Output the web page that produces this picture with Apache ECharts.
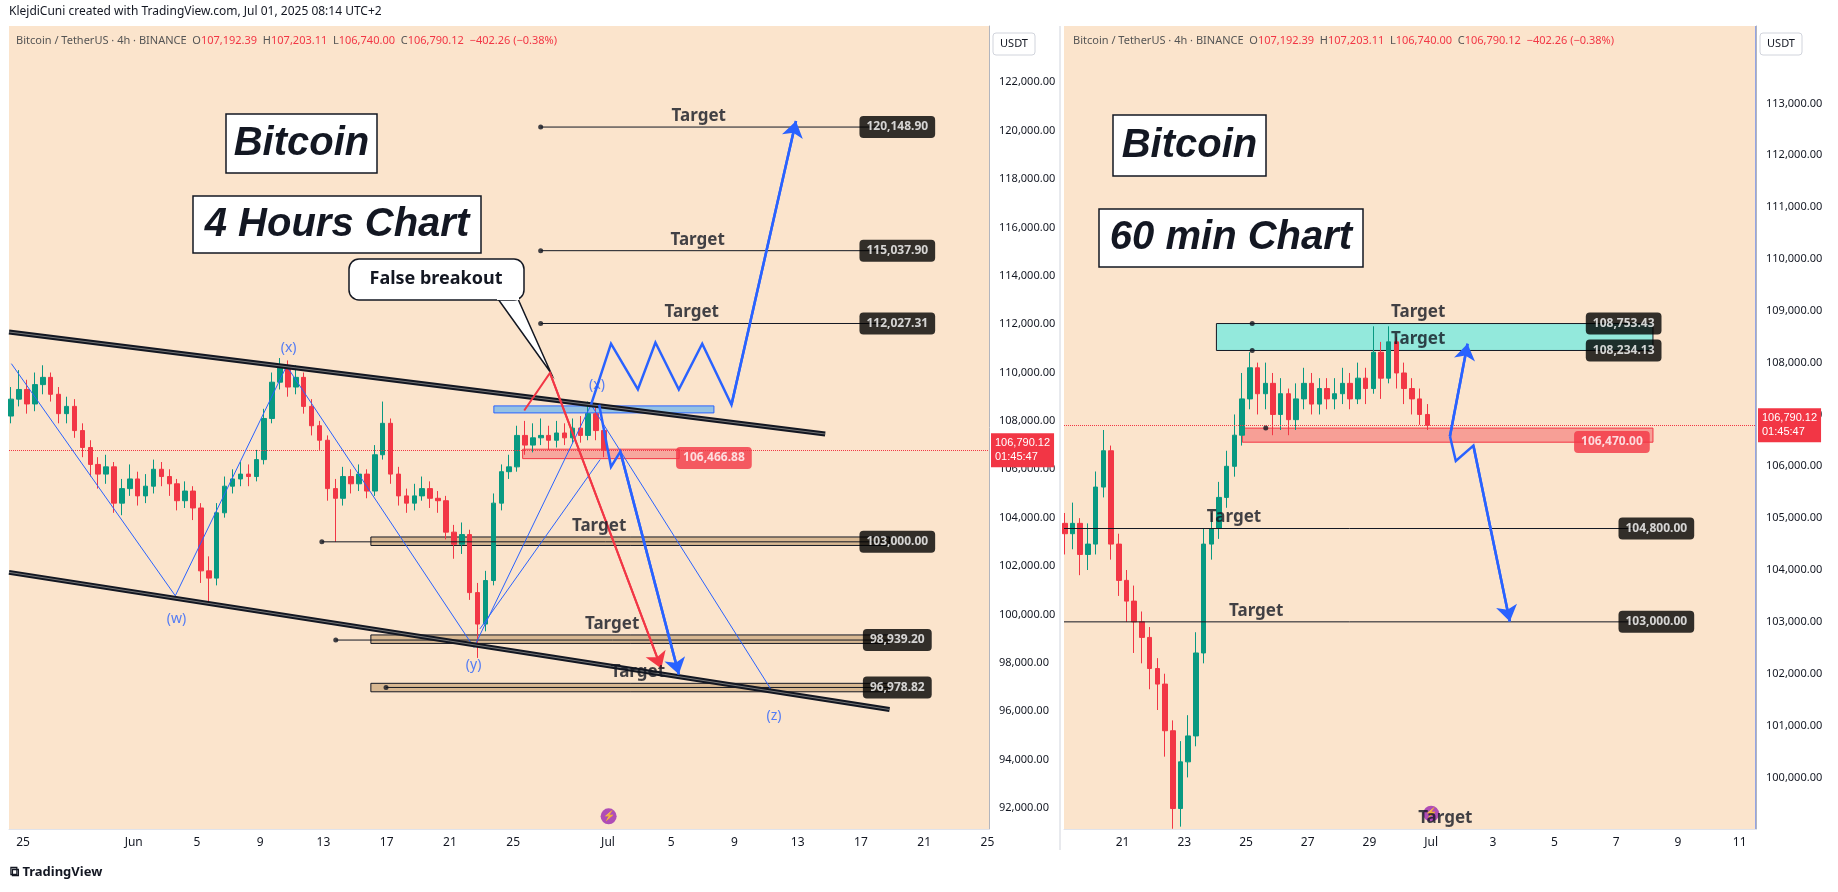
<!DOCTYPE html>
<html><head><meta charset="utf-8">
<script src="https://cdn.jsdelivr.net/npm/echarts@6/dist/echarts.min.js"></script>
<style>html,body{margin:0;padding:0;background:#fff}#c{width:1838px;height:892px}</style>
</head><body><div id="c"></div>
<script>
// ---------- DATA ----------
// day numbering: May 25 = 25, Jun 1 = 32, Jul 1 = 62
const leftStartDay = 24.25, leftStep = 0.5; // 4h chart, one candle per half day
const leftOHLC = [ // [open, close, low, high]
[108200,108900,107900,109400],[108900,109300,108600,110100],[109300,108700,108300,109700],[108700,109500,108400,110000],[109500,109800,109100,110300],
[109800,109100,108800,110000],[109100,108300,107900,109400],[108300,108600,107900,109000],[108600,107600,107300,108900],[107600,106900,106500,107900],
[106900,106200,105700,107200],[106200,105800,105200,106500],[105800,106100,105400,106600],[106100,104600,104200,106300],[104600,105200,104100,105600],
[105200,105600,104900,106200],[105600,104900,104500,105900],[104900,105300,104600,105800],[105300,106000,105000,106400],[106000,105700,105300,106300],
[105700,105400,104900,106000],[105400,104700,104300,105600],[104700,105100,104400,105500],[105100,104400,103900,105300],[104400,101800,101300,104600],
[101800,101500,100400,102400],[101500,104200,101200,104600],[104200,105300,104000,105700],[105300,105600,105000,106000],[105600,105800,105300,106300],
[105800,105700,105300,106200],[105700,106400,105500,106800],[106400,108100,106200,108500],[108100,109600,107900,110000],[109600,110300,109300,110600],
[110300,109400,109000,110500],[109400,109800,109100,110300],[109800,108600,108300,110000],[108600,107800,107400,108900],[107800,107200,106800,108000],
[107200,105200,104700,107400],[105200,104800,103000,105600],[104800,105700,104500,106100],[105700,105400,105000,106000],[105400,105800,105100,106200],
[105800,105100,104800,106000],[105100,106600,104900,107000],[106600,107900,106400,108800],[107900,105800,105400,108100],[105800,104900,104500,106100],
[104900,104600,104200,105200],[104600,104900,104300,105400],[104900,105200,104700,105700],[105200,104800,104400,105500],[104800,104700,104200,105100],
[104700,103400,103100,104900],[103400,102900,102300,103700],[102900,103300,102500,103800],[103300,100900,100600,103500],[100900,99600,98200,101300],
[99600,101400,99300,101800],[101400,104600,101200,105000],[104600,105900,104300,106200],[105900,106100,105600,106600],[106100,107400,105900,107800],
[107400,107000,106600,108000],[107000,107300,106700,107900],[107300,107400,107000,108100],[107400,107200,106800,107800],[107200,107500,106900,108000],
[107500,107300,107000,107900],[107300,107700,107100,108100],[107700,107400,107100,108200],[107400,108300,107200,108800],[108300,107600,107200,108600],
[107600,106790,106500,107900]];
const rightStartDay = 50.125, rightStep = 0.25;
const rightOHLC = [
[104900,104700,104300,105100],[104700,104900,104400,105300],[104900,104300,103900,105000],[104300,104500,104000,104900],[104500,105600,104300,105900],
[105600,106300,105400,106700],[106300,104500,104200,106400],[104500,103800,103500,104700],[103800,103400,103000,104000],[103400,103000,102400,103700],
[103000,102700,102200,103200],[102700,102100,101700,102900],[102100,101800,101300,102300],[101800,100900,100400,102000],[100900,99400,99010,101100],
[99400,100300,99050,100700],[100300,100800,100000,101200],[100800,102400,100600,102800],[102400,104500,102200,104800],[104500,104800,104200,105100],
[104800,105400,104600,105700],[105400,106000,105200,106300],[106000,106600,105800,107000],[106600,107300,106400,107800],[107300,107900,107100,108200],
[107900,107400,107000,108000],[107400,107600,107100,108000],[107600,107000,106600,107800],[107000,107400,106700,107700],[107400,106900,106600,107500],
[106900,107300,106700,107600],[107300,107600,107100,107900],[107600,107200,107000,107800],[107200,107500,107000,107700],[107500,107300,107100,107700],
[107300,107400,107100,107700],[107400,107600,107200,107900],[107600,107300,107100,107800],[107300,107700,107200,108000],[107700,107500,107200,107900],
[107500,108200,107400,108700],[108200,107700,107300,108400],[107700,108400,107600,108700],[108400,107800,107500,108500],[107800,107500,107200,108000],
[107500,107300,107000,107700],[107300,107000,106800,107500],[107000,106790,106700,107200]];
const lastPrice = 106790.12;
const leftTicksX = [25,32,36,40,44,48,52,56,62,66,70,74,78,82,86];
const rightTicksX = [52,54,56,58,60,62,64,66,68,70,72];
const leftTicksY = [92000,94000,96000,98000,100000,102000,104000,106000,108000,110000,112000,114000,116000,118000,120000,122000];
const rightTicksY = [100000,101000,102000,103000,104000,105000,106000,107000,108000,109000,110000,111000,112000,113000];
// left annotations
const leftTargets = [120148.90, 115037.90, 112027.31];
const leftZones = [[103000.00,102850,103200],[98939.20,98800,99150],[96978.82,96800,97150]];
const leftUpperChannel = [[24.11,111675],[75.74,107458]];
const leftLowerChannel = [[24.11,101738],[79.81,96067]];
const leftWave = [[24.26,110367],[34.63,100770],[41.67,110270],[53.52,98636],[60.93,108670],[72.41,96796]];
const leftWaveExtra = [[53.9,99400],[61.5,106400]];
const waveLabels = [['(w)',34.7,99800],['(x)',41.8,111000],['(y)',53.5,97900],['(x)',61.3,109500],['(z)',72.5,95800]];
const leftRedPath = [[56.70,108428],[58.33,109980],[65.37,97766]];
const leftBlueUp = [[60.93,108670],[62.19,111191],[63.89,109300],[65.0,111239],[66.48,109300],[67.96,111191],[69.81,108670],[73.89,120400]];
const leftBlueDown = [[61.44,108670],[62.19,106101],[62.78,106731],[66.48,97522]];
// right annotations
const rightCyan = [108753.43, 108234.13];
const rightRed = 106470.00;
const rightTargets = [104800.00, 103000.00];
const rightBlueUp = [[62.61,106579],[63.18,108365]];
const rightBlueDown = [[62.61,106579],[62.80,106104],[63.37,106398],[64.55,103006]];

// ---------- helpers ----------
const fmt = v => v.toLocaleString('en-US',{minimumFractionDigits:2,maximumFractionDigits:2});
const candles = (ohlc, start, step) => ohlc.map((c,i)=>[start+i*step, c[0], c[1], c[2], c[3]]);
const dayLabel = d => d<32 ? String(d) : d===32 ? 'Jun' : d<62 ? String(d-31) : d===62 ? 'Jul' : String(d-61);
const UP='#089981', DN='#f23645', BG='#fbe4cc';
const pill = (xi, yi, x, y, text, bg) => ({type:'scatter', xAxisIndex:xi, yAxisIndex:yi, symbolSize:1, silent:true, z:20,
  itemStyle:{color:'rgba(0,0,0,0)'}, data:[[x,y]],
  label:{show:true, position:'inside', formatter:text, color:'#fff', backgroundColor:bg||'#000', borderRadius:4, padding:[5,7], fontSize:12, fontWeight:'bold', fontFamily:'Noto Sans'}});
const txt = (xi, yi, x, y, text, opt) => ({type:'scatter', xAxisIndex:xi, yAxisIndex:yi, symbolSize:1, silent:true, z:19,
  itemStyle:{color:'rgba(0,0,0,0)'}, data:[[x,y]],
  label:Object.assign({show:true, position:'inside', formatter:text, color:'#131722', fontSize:17, fontWeight:'bold', fontFamily:'Noto Sans'}, opt||{})});
const series = [];
const line = (xi, yi, pts, color, width, arrow, z) => {
  series.push({type:'lines', coordinateSystem:'cartesian2d', xAxisIndex:xi, yAxisIndex:yi, polyline:true, silent:true, z:z||10,
    symbol:'none', lineStyle:{color, width, opacity:1}, data:[{coords:pts}]});
  if (arrow) {
    const n = pts.length;
    series.push({type:'lines', coordinateSystem:'cartesian2d', xAxisIndex:xi, yAxisIndex:yi, polyline:false, silent:true, z:z||10,
      symbol:['none','arrow'], symbolSize:16, lineStyle:{color, width, opacity:1}, data:[{coords:[pts[n-2],pts[n-1]]}]});
  }
};
const dot = (xi, yi, pts) => ({type:'scatter', xAxisIndex:xi, yAxisIndex:yi, symbolSize:5, silent:true, z:15, itemStyle:{color:'#131722'}, data:pts});

// left candles
series.push({type:'candlestick', xAxisIndex:0, yAxisIndex:0, barWidth:5, clip:true, data:candles(leftOHLC,leftStartDay,leftStep), encode:{x:0,y:[1,2,3,4]},
  itemStyle:{color:UP,color0:DN,borderColor:UP,borderColor0:DN},
  markLine:{symbol:'none', silent:true, lineStyle:{color:DN,type:'dotted',width:1},
    label:{position:'end', formatter:fmt(lastPrice)+'\n01:45:47', backgroundColor:'#f23645', color:'#fff', fontSize:11, padding:[3,4], lineHeight:14, distance:2},
    data:[{yAxis:lastPrice}]},
  markArea:{silent:true, data:[
    [{coord:[54.78,108330],itemStyle:{color:'rgba(66,165,245,0.55)',borderColor:'#2962ff',borderWidth:1}},{coord:[68.7,108620]}],
    [{coord:[56.6,106440],itemStyle:{color:'rgba(242,54,69,0.35)',borderColor:'#f23645',borderWidth:1}},{coord:[66.5,106830]}],
    ...leftZones.map(z=>[{coord:[47.0,z[1]],itemStyle:{color:'rgba(196,160,115,0.65)',borderColor:'#131722',borderWidth:1}},{coord:[79.8,z[2]]}])
  ]}});
// right candles
series.push({type:'candlestick', xAxisIndex:1, yAxisIndex:1, barWidth:5, clip:true, data:candles(rightOHLC,rightStartDay,rightStep), encode:{x:0,y:[1,2,3,4]},
  itemStyle:{color:UP,color0:DN,borderColor:UP,borderColor0:DN},
  markLine:{symbol:'none', silent:true, lineStyle:{color:DN,type:'dotted',width:1},
    label:{position:'end', formatter:fmt(lastPrice)+'\n01:45:47', backgroundColor:'#f23645', color:'#fff', fontSize:11, padding:[3,4], lineHeight:14, distance:2},
    data:[{yAxis:lastPrice}]},
  markArea:{silent:true, data:[
    [{coord:[55.04,rightCyan[1]],itemStyle:{color:'rgba(128,234,222,0.85)',borderColor:'#131722',borderWidth:1}},{coord:[69.19,rightCyan[0]]}],
    [{coord:[55.88,106465],itemStyle:{color:'rgba(242,54,69,0.4)',borderColor:'#f23645',borderWidth:1}},{coord:[69.19,106737]}]
  ]}});
// left channels
[leftUpperChannel,leftLowerChannel].forEach(c=>{
  line(0,0,c,'#131722',5,false,11);
  line(0,0,c,'#777',1,false,12);
});
line(0,0,leftWave,'#2962ff',1,false,9);
line(0,0,leftWaveExtra,'#2962ff',1,false,9);
waveLabels.forEach(w=>series.push(txt(0,0,w[1],w[2],w[0],{color:'#2962ff',fontSize:14,fontWeight:'normal'})));
line(0,0,leftRedPath,'#f23645',2,true,13);
line(0,0,leftBlueUp,'#2962ff',2.5,true,13);
line(0,0,leftBlueDown,'#2962ff',2.5,true,13);
// left targets
leftTargets.forEach((t,i)=>{
  line(0,0,[[57.74,t],[79.5,t]],'#131722',1,false,8);
  series.push(dot(0,0,[[57.74,t]]));
  series.push(txt(0,0,[67.74,67.67,67.3][i],t,'Target',{position:'top',distance:2}));
  series.push(pill(0,0,80.3,t,fmt(t)));
});
const zoneStarts=[43.9,44.78,47.96];
leftZones.forEach((z,i)=>{
  line(0,0,[[zoneStarts[i],z[0]],[79.8,z[0]]],'#131722',1,false,8);
  series.push(dot(0,0,[[zoneStarts[i],z[0]]]));
  series.push(txt(0,0,[61.44,62.26,63.89][i],z[2],'Target',{position:'top',distance:2}));
  series.push(pill(0,0,80.3,z[0],fmt(z[0])));
});
series.push(pill(0,0,68.7,106466.88,fmt(106466.88),'#f23645'));
series.push({type:'scatter',xAxisIndex:0,yAxisIndex:0,symbolSize:16,silent:true,itemStyle:{color:'#9c27b0'},data:[[62.04,91650]],
  label:{show:true,position:'inside',formatter:'⚡',color:'#fff',fontSize:10}});
// right
series.push(dot(1,1,[[56.2,rightCyan[0]],[56.2,rightCyan[1]],[56.64,106737]]));
series.push(txt(1,1,61.58,rightCyan[0],'Target',{position:'top',distance:2}));
series.push(txt(1,1,61.58,rightCyan[1],'Target',{position:'top',distance:2}));
series.push(pill(1,1,68.24,rightCyan[0],fmt(rightCyan[0])));
series.push(pill(1,1,68.24,rightCyan[1],fmt(rightCyan[1])));
series.push(pill(1,1,67.86,rightRed,fmt(rightRed),'#f23645'));
rightTargets.forEach((t,i)=>{
  line(1,1,[[50.1,t],[68.6,t]],'#131722',1,false,8);
  series.push(txt(1,1,[55.61,56.33][i],t,'Target',{position:'top',distance:2}));
  series.push(pill(1,1,69.3,t,fmt(t)));
});
series.push(txt(1,1,62.46,99207,'Target'));
line(1,1,rightBlueUp,'#2962ff',2.5,true,13);
line(1,1,rightBlueDown,'#2962ff',2.5,true,13);
series.push({type:'scatter',xAxisIndex:1,yAxisIndex:1,symbolSize:16,silent:true,itemStyle:{color:'#9c27b0'},data:[[62.0,99300]],
  label:{show:true,position:'inside',formatter:'⚡',color:'#fff',fontSize:10}});

const xAxisBase = (gi,min,max,ticks)=>({type:'value', gridIndex:gi, min, max, splitLine:{show:false},
  axisLine:{show:true,lineStyle:{color:'#e0e3eb'}}, axisTick:{show:false},
  axisLabel:{customValues:ticks, formatter:dayLabel, color:'#131722', fontSize:12, fontFamily:'Noto Sans', margin:8}});
const yAxisBase = (gi,min,max,ticks)=>({type:'value', gridIndex:gi, min, max, position:'right', scale:true, splitLine:{show:false},
  axisLine:{show:true,lineStyle:{color:'#b2b5be'}}, axisTick:{show:false},
  axisLabel:{customValues:ticks, formatter:v=>fmt(v), color:'#131722', fontSize:11, fontFamily:'Noto Sans', margin:10}});

const boxText = (x,y,w,h,text,size)=>({type:'group', children:[
  {type:'rect', shape:{x,y,width:w,height:h}, style:{fill:'#fff',stroke:'#131722',lineWidth:1.5}},
  {type:'text', x:x+w/2, y:y+h/2, style:{text, fill:'#131722', font:'italic bold '+size+'px "Liberation Sans"', align:'center', verticalAlign:'middle'}}]});

const chart = echarts.init(document.getElementById('c'));
chart.setOption({
  animation:false, backgroundColor:'#fff',
  grid:[
    {left:9, top:26, width:980, height:803, show:true, backgroundColor:BG, borderWidth:0},
    {left:1064, top:26, width:692, height:803, show:true, backgroundColor:BG, borderWidth:0}],
  xAxis:[xAxisBase(0,24.11,86.1,leftTicksX), xAxisBase(1,50.1,72.53,rightTicksX)],
  yAxis:[yAxisBase(0,91127,124327,leftTicksY), yAxisBase(1,99005,114492,rightTicksY)],
  series,
  graphic:[
    {type:'text', left:9, top:6, style:{text:'KlejdiCuni created with TradingView.com, Jul 01, 2025 08:14 UTC+2', fill:'#131722', font:'12px "Noto Sans"'}},
    {type:'text', left:16, top:35, style:{rich:{a:{fill:'#555',fontSize:11,fontFamily:'Noto Sans'},b:{fill:'#f23645',fontSize:11,fontFamily:'Noto Sans'}},
      text:'{a|Bitcoin / TetherUS · 4h · BINANCE  O}{b|107,192.39}{a|  H}{b|107,203.11}{a|  L}{b|106,740.00}{a|  C}{b|106,790.12  −402.26 (−0.38%)}'}},
    {type:'text', left:1073, top:35, style:{rich:{a:{fill:'#555',fontSize:11,fontFamily:'Noto Sans'},b:{fill:'#f23645',fontSize:11,fontFamily:'Noto Sans'}},
      text:'{a|Bitcoin / TetherUS · 4h · BINANCE  O}{b|107,192.39}{a|  H}{b|107,203.11}{a|  L}{b|106,740.00}{a|  C}{b|106,790.12  −402.26 (−0.38%)}'}},
    {type:'rect', shape:{x:993,y:33,width:42,height:22,r:3}, style:{fill:'#fff',stroke:'#d1d4dc'}},
    {type:'text', x:1014, y:44, style:{text:'USDT',fill:'#131722',font:'11px "Noto Sans"',align:'center',verticalAlign:'middle'}},
    {type:'rect', shape:{x:1760,y:33,width:42,height:22,r:3}, style:{fill:'#fff',stroke:'#d1d4dc'}},
    {type:'text', x:1781, y:44, style:{text:'USDT',fill:'#131722',font:'11px "Noto Sans"',align:'center',verticalAlign:'middle'}},
    {type:'line', shape:{x1:1756,y1:26,x2:1756,y2:829}, style:{stroke:'#2962ff',lineWidth:1}},
    {type:'line', shape:{x1:1060,y1:26,x2:1060,y2:850}, style:{stroke:'#d1d4dc',lineWidth:1}},
    boxText(226,114,151,59,'Bitcoin',40),
    boxText(193,196,288,57,'4 Hours Chart',40),
    boxText(1113,115,153,61,'Bitcoin',40),
    boxText(1099,209,264,58,'60 min Chart',40),
    {type:'polygon', shape:{points:[[498,299],[518,299],[551,373]]}, style:{fill:'#fff',stroke:'#131722',lineWidth:1.5}},
    {type:'rect', shape:{x:349,y:259,width:175,height:41,r:10}, style:{fill:'#fff',stroke:'#131722',lineWidth:1.5}},
    {type:'rect', shape:{x:497,y:297,width:22,height:3}, style:{fill:'#fff'}},
    {type:'text', x:436, y:279, style:{text:'False breakout',fill:'#131722',font:'bold 18px "Noto Sans"',align:'center',verticalAlign:'middle'}},
    {type:'text', left:10, top:866, style:{text:'⧉ TradingView', fill:'#131722', font:'bold 13px "Noto Sans"'}}
  ]
});
</script></body></html>
